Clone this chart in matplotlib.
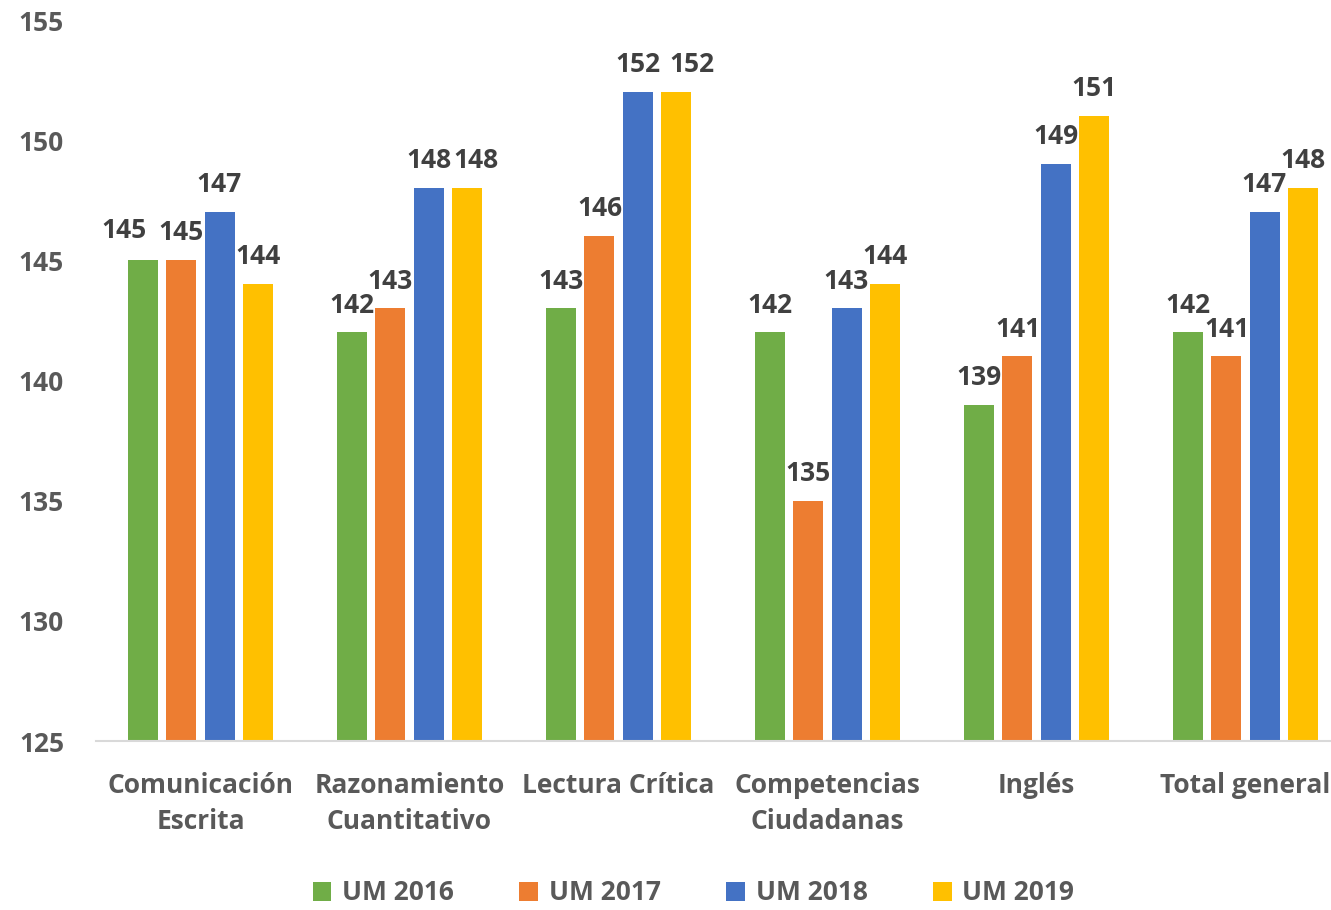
import matplotlib.pyplot as plt
import numpy as np

categories = ["Comunicación\nEscrita", "Razonamiento\nCuantitativo", "Lectura Crítica",
              "Competencias\nCiudadanas", "Inglés", "Total general"]
series_names = ["UM 2016", "UM 2017", "UM 2018", "UM 2019"]
um2016 = [145, 142, 143, 142, 139, 142]
um2017 = [145, 143, 146, 135, 141, 141]
um2018 = [147, 148, 152, 143, 149, 147]
um2019 = [144, 148, 152, 144, 151, 148]
colors = ["#70ad47", "#ed7d31", "#4472c4", "#ffc000"]
yticks = [125, 130, 135, 140, 145, 150, 155]

# label nudges (series index, category index) -> (dx, dy) in points, to keep
# touching value labels apart like the original does
nudges = {(0, 0): (-14, 2), (3, 1): (7, 0), (3, 2): (12, 0)}

plt.rcParams["font.family"] = ["Open Sans", "DejaVu Sans"]
plt.rcParams["font.weight"] = "bold"
FS = 19

fig = plt.figure(figsize=(13.31, 9.10), dpi=100)
# plot area runs slightly past the right edge, as in the original
ax = fig.add_axes([96 / 1331, 1 - 741 / 910, (1350 - 96) / 1331, (741 - 20) / 910])

x = np.arange(len(categories))
width = 0.1435
step = 0.182
for i, (name, vals) in enumerate(zip(series_names, [um2016, um2017, um2018, um2019])):
    pos = x + (i - 1.5) * step
    ax.bar(pos, np.array(vals) - 125, width, bottom=125, color=colors[i], label=name)
    for j, (p, v) in enumerate(zip(pos, vals)):
        dx, dy = nudges.get((i, j), (0, 0))
        ax.annotate(str(v), (p, v), xytext=(dx, 10 + dy), textcoords="offset points",
                    ha="center", va="bottom", fontsize=FS, fontweight="bold", color="#404040")

ax.set_xlim(-0.5, len(categories) - 0.5)
ax.set_ylim(125, 155)
ax.set_yticks(yticks)
ax.set_yticklabels([str(t) for t in yticks], fontsize=FS, fontweight="bold", color="#595959")
ax.set_xticks(x)
ax.set_xticklabels(categories, fontsize=FS, fontweight="bold", color="#595959", linespacing=1.45)
ax.tick_params(axis="both", length=0)
ax.tick_params(axis="x", pad=22)
ax.tick_params(axis="y", pad=23)
for side in ["top", "right", "left"]:
    ax.spines[side].set_visible(False)
ax.spines["bottom"].set_color("#d9d9d9")
ax.spines["bottom"].set_linewidth(1.5)

leg = fig.legend(loc="center", bbox_to_anchor=(0.521, 1 - 893 / 910), ncol=4, frameon=False,
                 fontsize=FS, handlelength=0.7, handleheight=0.7, handletextpad=0.4,
                 columnspacing=2.5)
for t in leg.get_texts():
    t.set_color("#595959")
    t.set_fontweight("bold")

fig.savefig("out.png", dpi=100)
